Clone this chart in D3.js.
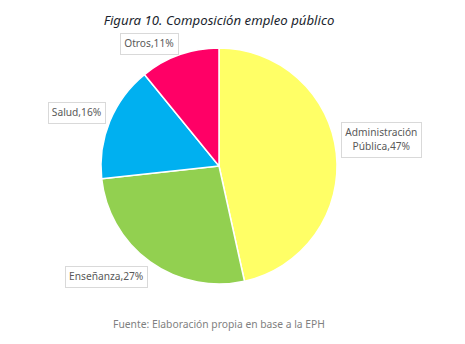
<!DOCTYPE html>
<html>
<head>
<meta charset="utf-8">
<script src="https://cdn.jsdelivr.net/npm/d3@7"></script>
<style>
  html, body { margin: 0; padding: 0; background: #ffffff; }
  svg { display: block; }
</style>
</head>
<body>
<svg id="chart" width="465" height="344"></svg>
<script>
// Composición del empleo público por rama (%)
const categories = ["Administración Pública", "Enseñanza", "Salud", "Otros"];
const labelLines = [["Administración", "Pública,47%"], ["Enseñanza,27%"], ["Salud,16%"], ["Otros,11%"]];
const shares = [47, 27, 16, 11];
const sliceColors = ["#FFFF66", "#92D050", "#00B0F0", "#FF0066"];

const titleText = "Figura 10. Composición empleo público";
const sourceText = "Fuente: Elaboración propia en base a la EPH";

const svg = d3.select("#chart");
const W = 465, H = 344;
const cx = 219, cy = 166, R = 118;

svg.append("rect").attr("width", W).attr("height", H).attr("fill", "#ffffff");

// Title
svg.append("text")
  .attr("x", 219).attr("y", 25)
  .attr("text-anchor", "middle")
  .attr("font-family", "'Noto Sans', sans-serif")
  .attr("font-style", "italic")
  .attr("font-size", 13.2)
  .attr("fill", "#1b1f2e")
  .text(titleText);

// Pie
const pie = d3.pie().sort(null).value(d => d)
  .startAngle(0).endAngle(2 * Math.PI);
const arcs = pie(shares);
const arc = d3.arc().innerRadius(0).outerRadius(R);

const g = svg.append("g").attr("transform", `translate(${cx},${cy})`);
g.selectAll("path.slice")
  .data(arcs)
  .join("path")
  .attr("class", "slice")
  .attr("d", arc)
  .attr("fill", (d, i) => sliceColors[i])
  .attr("stroke", "#ffffff")
  .attr("stroke-width", 1.5)
  .attr("stroke-linejoin", "round");

// Labels outside the slices, in bordered boxes
const fontSize = 10.2;
const lineH = 14;
const padX = 4, padY = 3;
const gap = 5;

arcs.forEach((d, i) => {
  const mid = (d.startAngle + d.endAngle) / 2;
  const s = Math.sin(mid), c = Math.cos(mid);
  const ax = cx + (R + gap) * s;
  const ay = cy - (R + gap) * c;

  const lg = svg.append("g");
  const txt = lg.append("text")
    .attr("font-family", "'Noto Sans', sans-serif")
    .attr("font-size", fontSize)
    .attr("fill", "#595959")
    .attr("text-anchor", "middle");
  labelLines[i].forEach((line, k) => {
    txt.append("tspan").attr("x", 0).attr("y", k * lineH).text(line);
  });
  const bb = txt.node().getBBox();
  const w = bb.width + 2 * padX;
  const h = labelLines[i].length * lineH + 2 * padY + 1;

  // box sits beside the rim; upper labels drop slightly toward the pie
  const bxCenter = ax + Math.sign(s) * w / 2;
  const byCenter = ay - Math.sign(c) * h / 2 + (c > 0 ? 4 : 0);

  lg.insert("rect", "text")
    .attr("x", Math.round(bxCenter - w / 2) + 0.5)
    .attr("y", Math.round(byCenter - h / 2) + 0.5)
    .attr("width", Math.round(w))
    .attr("height", Math.round(h))
    .attr("fill", "#ffffff")
    .attr("stroke", "#d9d9d9")
    .attr("stroke-width", 1);

  const firstBase = byCenter - (labelLines[i].length * lineH) / 2 + lineH * 0.5 + fontSize * 0.35;
  txt.attr("transform", `translate(${bxCenter},${firstBase})`);
});

// Source note
svg.append("text")
  .attr("x", 219).attr("y", 328)
  .attr("text-anchor", "middle")
  .attr("font-family", "'Noto Sans', sans-serif")
  .attr("font-size", 10.3)
  .attr("fill", "#7f7f7f")
  .text(sourceText);
</script>
</body>
</html>
